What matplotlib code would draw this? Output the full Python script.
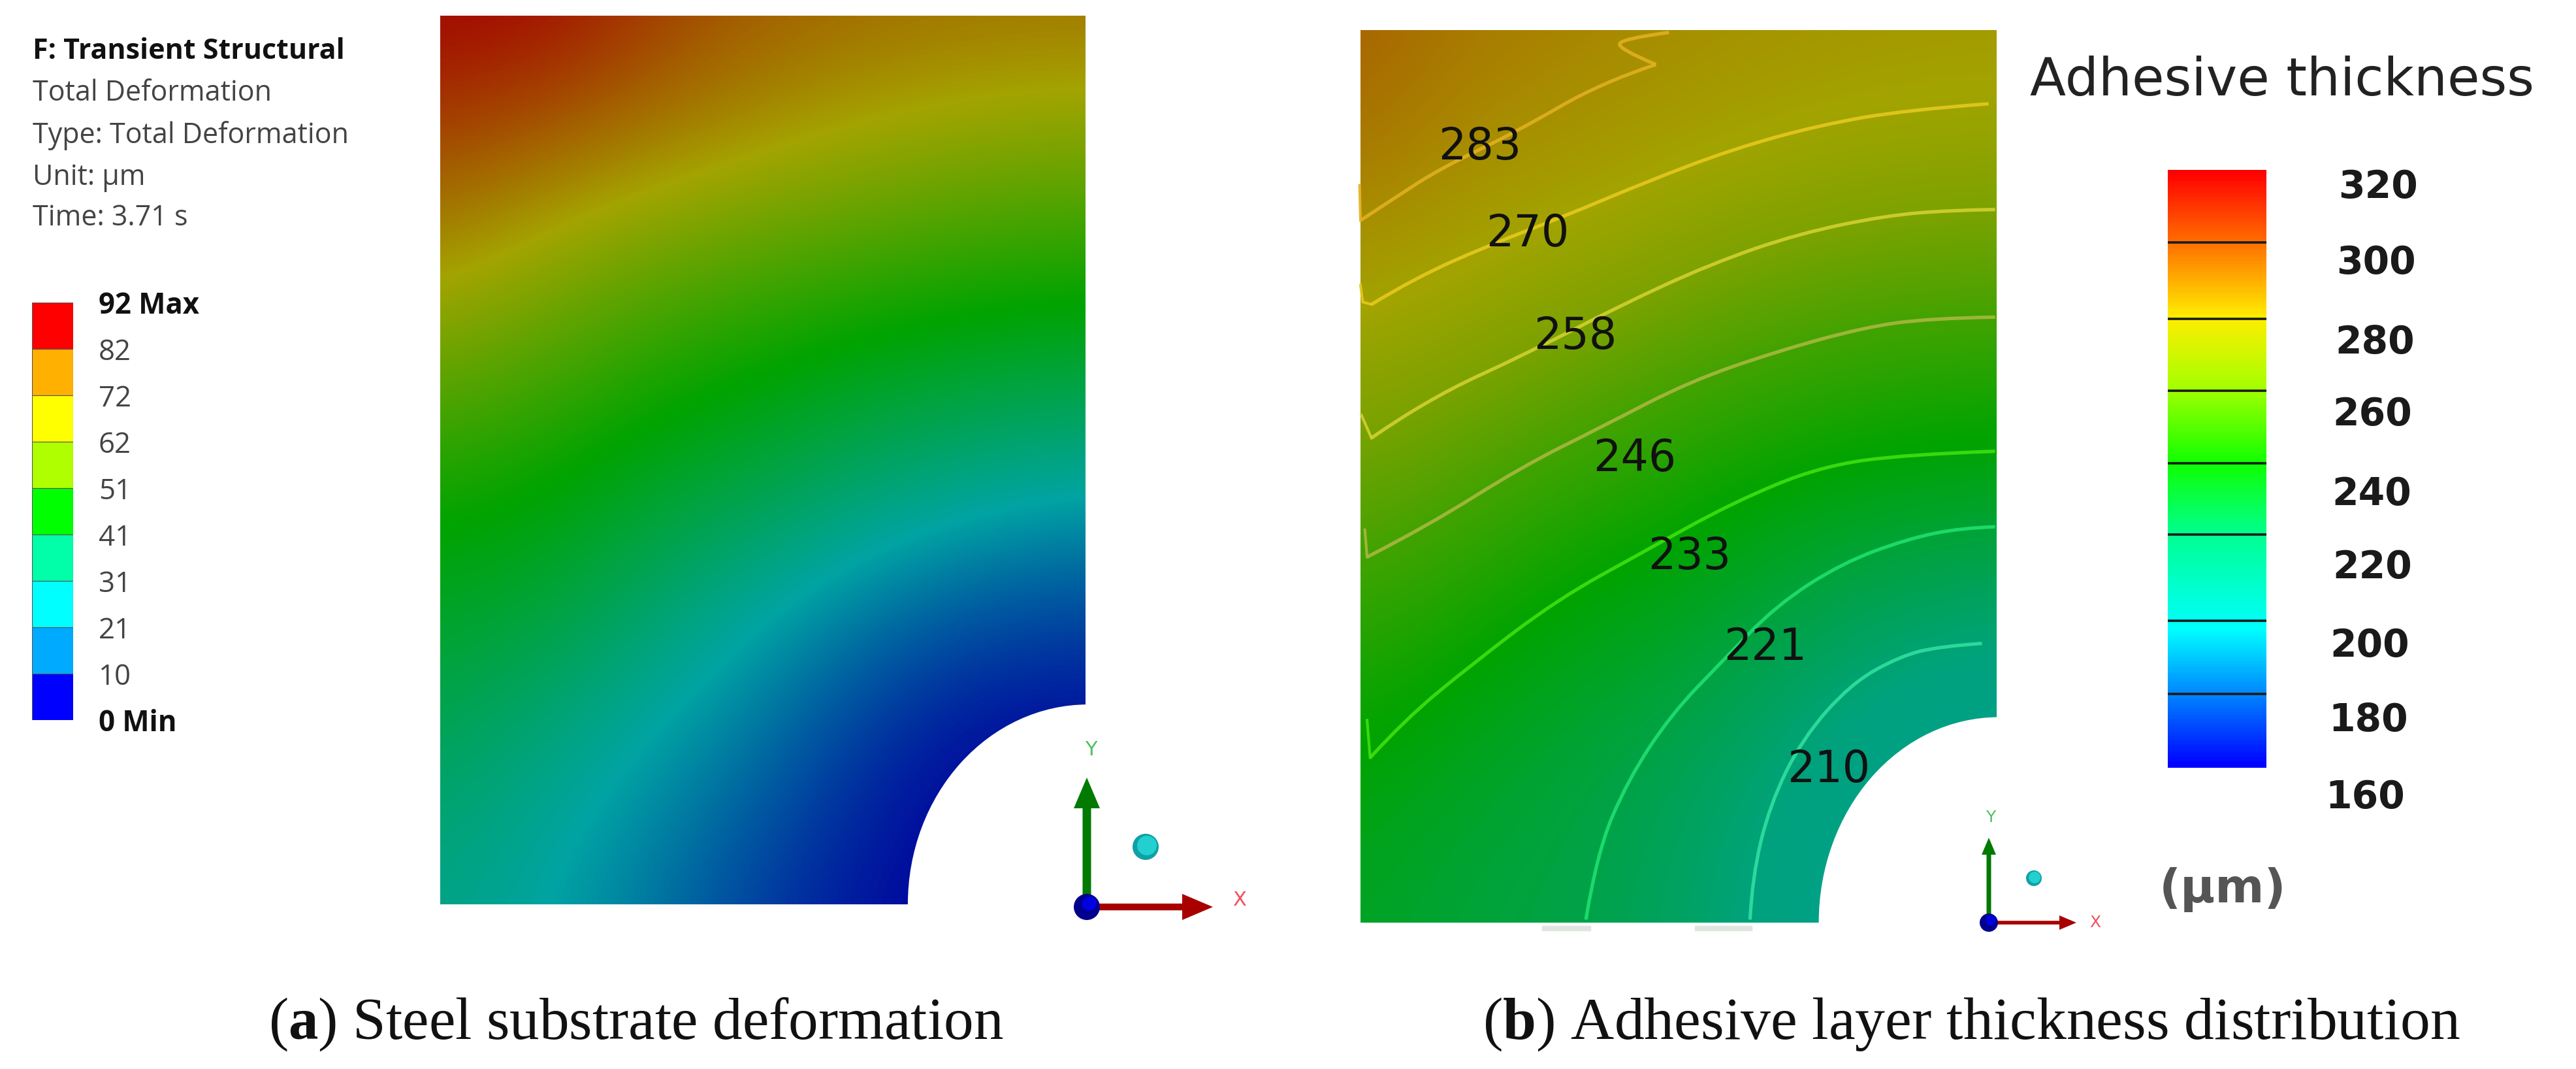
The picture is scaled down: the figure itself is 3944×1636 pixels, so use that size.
import numpy as np
import matplotlib
matplotlib.use('Agg')
import matplotlib.pyplot as plt
from matplotlib.colors import LinearSegmentedColormap
from matplotlib.patches import Ellipse, Circle, PathPatch
from matplotlib.path import Path

plt.rcParams['mathtext.fontset'] = 'custom'
plt.rcParams['mathtext.rm'] = 'Liberation Serif'
plt.rcParams['mathtext.bf'] = 'Liberation Serif:bold'

W, H = 3944, 1636

# left legend
header_lines = ['F: Transient Structural', 'Total Deformation', 'Type: Total Deformation',
                'Unit: µm', 'Time: 3.71 s']
legend_labels = ['92 Max', '82', '72', '62', '51', '41', '31', '21', '10', '0 Min']
legend_colors = ['#ff0000', '#ffb000', '#ffff00', '#b0ff00', '#00ff00',
                 '#00ffa8', '#00ffff', '#00aaff', '#0000ff']

# deformation (um), rows top to bottom
a_x = [22, 275, 528, 781, 1034, 1287, 1540]
a_y = [16, 272, 528, 784, 1040, 1296, 1550]
a_field = [[92, 91, 84, 79, 77, 76, 76],
           [80, 75.5, 72, 69, 66, 63.5, 62],
           [67, 61.5, 55.5, 51.5, 48.5, 46, 45],
           [51, 48, 42.5, 38.5, 33, 29.5, 27],
           [41, 38, 30.5, 23.5, 17, 12, 10],
           [33, 27, 21.5, 15, 6, 0, 0],
           [27, 23, 16, 8, 2, 0, 0]]
a_stops = [0, 23, 46, 69, 92]
a_stop_colors = ['#00009e', '#00a3a3', '#00a300', '#a3a300', '#a30000']

# thickness (um), rows top to bottom
b_x = [50, 290, 530, 770, 1010, 1250, 1502]
b_y = [28, 274, 520, 766, 1012, 1258, 1505]
b_field = [[300, 290, 287, 282, 279, 277, 276],
           [288, 279.4, 274, 269, 265, 262.3, 261.5],
           [268, 263, 258, 252.7, 248.3, 246, 245],
           [254, 248.6, 243, 238, 233.5, 230.5, 229],
           [241.6, 236.5, 230, 226.5, 219.5, 214, 211],
           [232, 226, 222, 217, 210, 204, 201],
           [226, 222, 220, 215, 207, 200, 195]]
b_stops = [195, 210, 233, 258, 270, 283, 300]
b_stop_colors = ['#00a09a', '#00a27c', '#00a400', '#7ca200', '#a2a400', '#a88a00', '#a86000']

# contour lines of panel b
c283 = [(50, 343), (130, 305), (230, 258), (410, 195), (600, 115), (725, 85)]
c283_top = [(725, 85), (635, 58), (650, 42), (755, 32)]
c270 = [(75, 482), (170, 440), (340, 385), (520, 335), (700, 280), (900, 225),
        (1100, 185), (1300, 160), (1485, 150)]
c258 = [(75, 703), (200, 640), (440, 560), (640, 485), (850, 415), (1050, 365), (1250, 335),
        (1400, 326), (1500, 325)]
c246 = [(65, 900), (200, 850), (420, 750), (600, 685), (800, 610), (1000, 560), (1200, 520),
        (1350, 505), (1500, 503)]
c233 = [(72, 1232), (150, 1170), (300, 1080), (500, 970), (700, 890), (900, 810), (1100, 750),
        (1300, 730), (1500, 725)]
c221 = [(565, 1500), (590, 1390), (660, 1270), (760, 1160), (880, 1070), (1000, 980), (1150, 910),
        (1300, 870), (1420, 852), (1500, 850)]
c210 = [(940, 1500), (945, 1430), (985, 1310), (1060, 1200), (1170, 1110), (1280, 1065), (1370, 1048),
        (1470, 1043)]
contours = [c283, c283_top, c270, c258, c246, c233, c221, c210]
contour_colors = ['#e0b020', '#e0b020', '#e6c81e', '#d2d030', '#a8b840', '#40e010', '#20e070', '#30e0a0']

# short hooks where the contours meet the left edge
hooks = [[(48, 285), (50, 343)], [(50, 450), (55, 478), (75, 482)], [(52, 665), (75, 703)],
         [(60, 855), (65, 900)], [(65, 1170), (72, 1232)]]
hook_colors = ['#e0b020', '#e6c81e', '#d2d030', '#a8b840', '#40e010']

contour_labels = ['283', '270', '258', '246', '233', '221', '210']
label_x = [322, 432, 540, 677, 802, 975, 1120]
label_y = [222, 365, 535, 737, 900, 1050, 1252]

# right colour bar
bar_title = 'Adhesive thickness'
bar_ticks = ['320', '300', '280', '260', '240', '220', '200', '180', '160']
bar_tick_x = [3641, 3638, 3636, 3632, 3631, 3632, 3628, 3626, 3621]
bar_tick_y = [287, 402, 524, 634, 756, 869, 988, 1102, 1220]
bar_lines = [371, 488, 598, 709, 818, 950, 1062]
bar_pos = [0, 0.12, 0.245, 0.36, 0.49, 0.61, 0.77, 0.87, 1]
bar_colors = ['#ff0000', '#ff7000', '#ffee00', '#a8ff00', '#10ff00', '#00ff90', '#00ffff', '#0090ff', '#0000ff']


def panel_axes(x0, y0, x1, y1):
    return fig.add_axes([x0 / W, 1 - y1 / H, (x1 - x0) / W, (y1 - y0) / H])


def field_image(ax, xs, ys, field, stops, colors):
    dx = xs[1] - xs[0]
    dy = ys[1] - ys[0]
    pos = (np.array(stops) - stops[0]) / (stops[-1] - stops[0])
    cmap = LinearSegmentedColormap.from_list('c', list(zip(pos, colors)))
    ax.imshow(field, cmap=cmap, vmin=stops[0], vmax=stops[-1], interpolation='bicubic',
              interpolation_stage='data',
              extent=(xs[0] - dx / 2, xs[-1] + dx / 2, ys[-1] + dy / 2, ys[0] - dy / 2), aspect='auto')
    ax.set_xlim(xs[0], xs[-1])
    ax.set_ylim(ys[-1], ys[0])
    ax.axis('off')


def smooth_line(ax, line, col, lw):
    # quadratic curve through the midpoints so the read points don't show as corners
    pts = np.array(line, dtype=float)
    verts = [pts[0]]
    codes = [Path.MOVETO]
    for i in range(1, len(pts) - 1):
        end = pts[i + 1] if i == len(pts) - 2 else (pts[i] + pts[i + 1]) / 2
        verts += [pts[i], end]
        codes += [Path.CURVE3, Path.CURVE3]
    ax.add_patch(PathPatch(Path(verts, codes), fc='none', ec=col, lw=lw, alpha=0.9, zorder=2))


def triad(ox, oy, ytip, xtip, shaft, head_w, head_l, r, ball, ball_r, ylabel_pos, xlabel_pos, fs):
    main.arrow(ox, oy, 0, ytip - oy, width=shaft, head_width=head_w, head_length=head_l,
               length_includes_head=True, color='#007a00', lw=0, zorder=3)
    main.arrow(ox, oy, xtip - ox, 0, width=shaft * 0.8, head_width=head_w, head_length=head_l,
               length_includes_head=True, color='#a80000', lw=0, zorder=3)
    main.add_patch(Circle((ox, oy), r, color='#00008c', lw=0, zorder=4))
    main.add_patch(Circle((ox + r * 0.2, oy - r * 0.25), r * 0.55, color='#0000e0', lw=0, zorder=5))
    main.add_patch(Circle(ball, ball_r, color='#0fa0a5', lw=0, zorder=4))
    main.add_patch(Circle((ball[0] + ball_r * 0.1, ball[1] - ball_r * 0.1), ball_r * 0.75, color='#22d0d0',
                          lw=0, zorder=5))
    main.text(ylabel_pos[0], ylabel_pos[1], 'Y', color='#50c060', fontsize=fs, ha='center', va='center')
    main.text(xlabel_pos[0], xlabel_pos[1], 'X', color='#f05060', fontsize=fs, ha='center', va='center')


fig = plt.figure(figsize=(W / 100, H / 100), dpi=100, facecolor='white')

# panel a
ax_a = panel_axes(674, 24, 1662, 1384)
field_image(ax_a, a_x, a_y, a_field, a_stops, a_stop_colors)
ax_a.add_patch(Ellipse((1546, 1550), 2 * 424, 2 * 345, color='white', lw=0, zorder=3, clip_on=False))

# panel b
ax_b = panel_axes(2083, 46, 3056, 1412)
field_image(ax_b, b_x, b_y, b_field, b_stops, b_stop_colors)
for line, col in zip(contours, contour_colors):
    smooth_line(ax_b, line, col, 3.8)
for line, col in zip(hooks, hook_colors):
    pts = np.array(line)
    ax_b.plot(pts[:, 0], pts[:, 1], color=col, lw=3.0, alpha=0.9, zorder=2, clip_on=False)
ax_b.add_patch(Ellipse((1508, 1505), 2 * 411, 2 * 340, color='white', lw=0, zorder=3, clip_on=False))
for s, x, y in zip(contour_labels, label_x, label_y):
    ax_b.text(x, y, s, fontsize=48, color='#111111', ha='center', va='center', zorder=4, family='DejaVu Sans')

# discrete legend of panel a
ax_leg = panel_axes(49, 463, 112, 1102)
ax_leg.bar([0] * 9, [1] * 9, bottom=np.arange(9), width=1, color=legend_colors,
           edgecolor='#555555', linewidth=0.8)
ax_leg.set_xlim(-0.5, 0.5)
ax_leg.set_ylim(9, 0)
ax_leg.set_xticks([])
ax_leg.yaxis.tick_right()
ax_leg.set_yticks(np.arange(10))
ax_leg.set_yticklabels(legend_labels, family='Open Sans', fontsize=31.5, color='#444444')
ax_leg.tick_params(axis='y', length=0, pad=28)
for tl in [ax_leg.get_yticklabels()[0], ax_leg.get_yticklabels()[-1]]:
    tl.set_fontweight('bold')
    tl.set_color('#111111')
for sp in ax_leg.spines.values():
    sp.set_visible(False)

# gradient colour bar of panel b
ax_bar = panel_axes(3319, 260, 3470, 1175)
bar_cmap = LinearSegmentedColormap.from_list('bar', list(zip(bar_pos, bar_colors)))
ax_bar.imshow(np.linspace(0, 1, 400).reshape(-1, 1), cmap=bar_cmap, aspect='auto',
              extent=(3319, 3470, 1175, 260))
ax_bar.hlines(bar_lines, 3319, 3470, color='#1a1a1a', lw=2.6)
ax_bar.axis('off')

# everything else goes on a full figure layer in pixels
main = fig.add_axes([0, 0, 1, 1], facecolor='none')
main.set_xlim(0, W)
main.set_ylim(H, 0)
main.axis('off')

header_y = [79, 143, 208, 272, 334]
for i, (s, y) in enumerate(zip(header_lines, header_y)):
    main.text(50, y, s, family='Open Sans', fontsize=31, va='center',
              fontweight='bold' if i == 0 else 'normal', color='#111111' if i == 0 else '#444444')

main.text(3108, 124, bar_title, family='DejaVu Sans', fontsize=58, color='#222222', va='center')
for s, x, y in zip(bar_ticks, bar_tick_x, bar_tick_y):
    main.text(x, y, s, family='DejaVu Sans', fontweight='bold', fontsize=42, color='#1a1a1a',
              ha='center', va='center')
main.text(3403, 1362, '(µm)', family='DejaVu Sans', fontweight='bold', fontsize=52, color='#555555',
          ha='center', va='center')

triad(1664, 1388, 1190, 1857, 13, 40, 47, 20, (1754, 1296), 20, (1670, 1147), (1898, 1377), 22)
triad(3045, 1412, 1282, 3179, 7, 22, 26, 14, (3114, 1344), 12, (3048, 1251), (3208, 1412), 18)

# smudges under panel b
main.plot([2365, 2432], [1421, 1421], color='#dfe6df', lw=6)
main.plot([2599, 2679], [1421, 1421], color='#dfe6df', lw=6)

main.text(411, 1590, '(' + r'$\mathbf{a}$' + ') Steel substrate deformation', family='Liberation Serif',
          fontsize=65.5, color='#111111', va='baseline')
main.text(2270, 1590, '(' + r'$\mathbf{b}$' + ') Adhesive layer thickness distribution',
          family='Liberation Serif', fontsize=66, color='#111111', va='baseline')

fig.savefig('out.png', dpi=100)
